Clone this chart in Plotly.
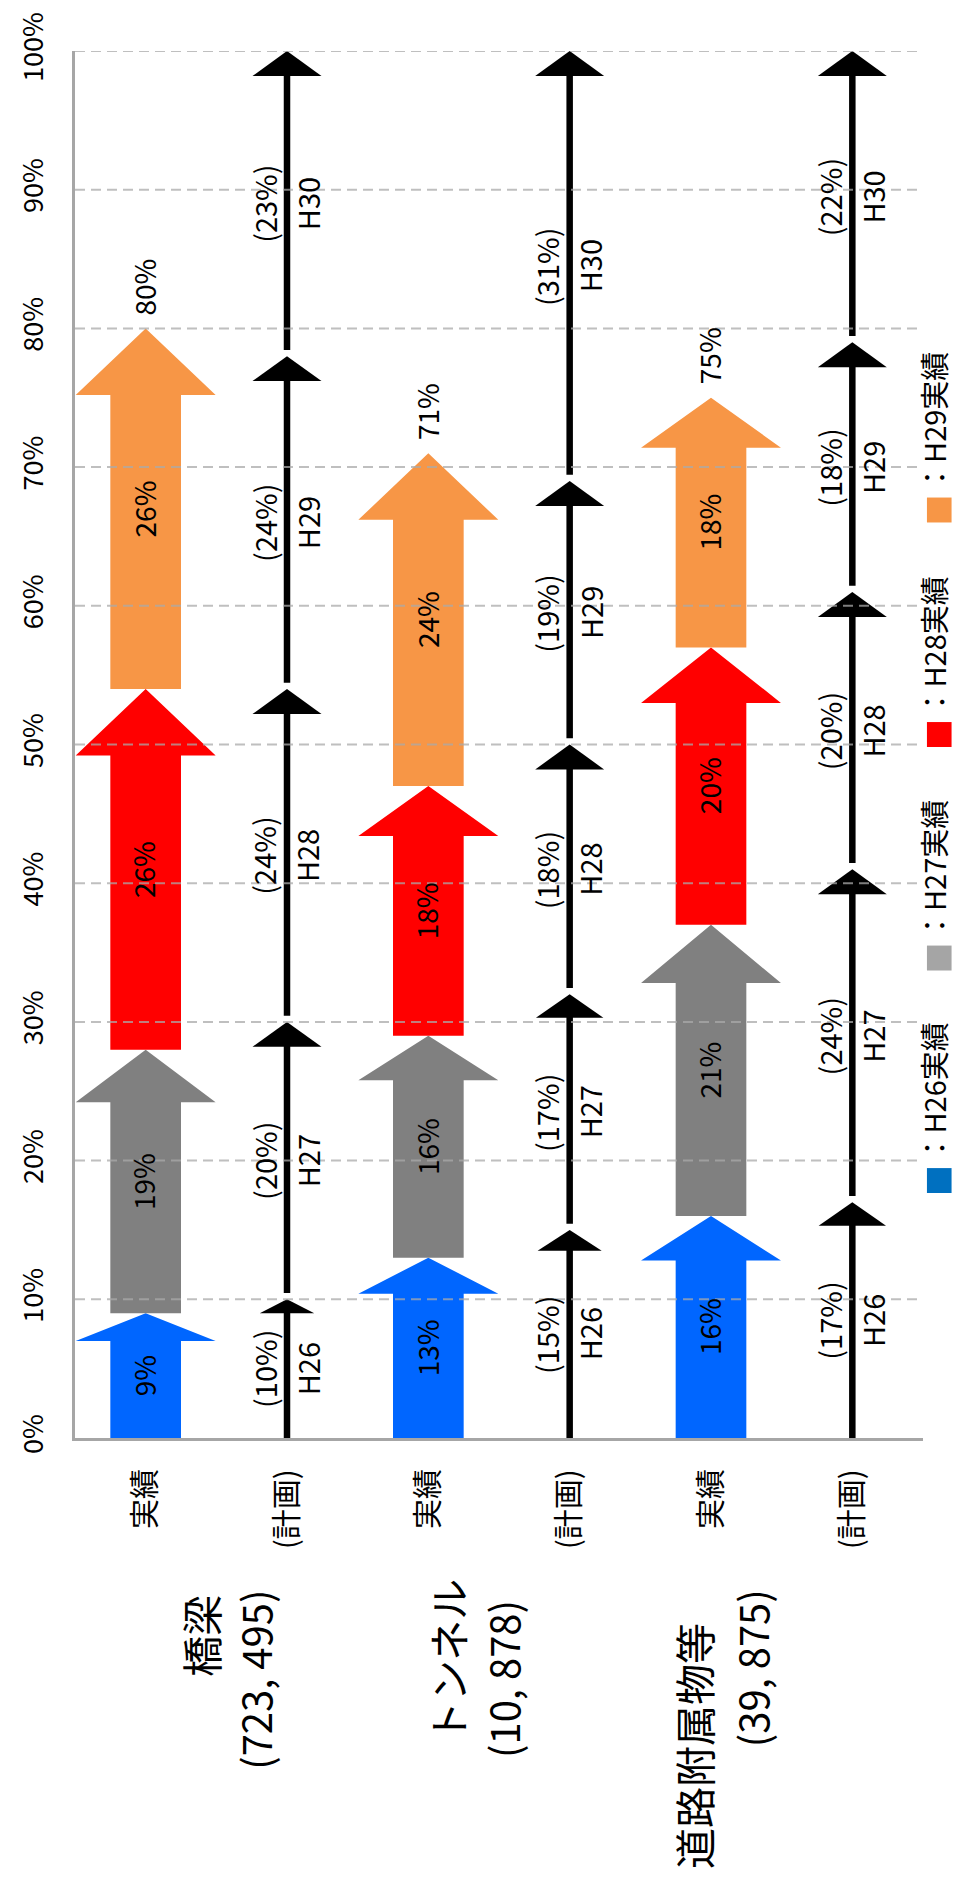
import plotly.graph_objects as go

# ---------------- data ----------------
group_names = ["橋梁", "トンネル", "道路附属物等"]
group_counts = ["(723, 495)", "(10, 878)", "(39, 875)"]
row_labels = ["実績", "(計画)", "実績", "(計画)", "実績", "(計画)"]
actual_years = ["H26実績", "H27実績", "H28実績", "H29実績"]
plan_years = ["H26", "H27", "H28", "H29", "H30"]

bridge_actual = [9, 19, 26, 26]
tunnel_actual = [13, 16, 18, 24]
facility_actual = [16, 21, 20, 18]

bridge_plan = [10, 20, 24, 24, 23]
tunnel_plan = [15, 17, 18, 19, 31]
facility_plan = [17, 24, 20, 18, 22]

pct_ticks = [0, 10, 20, 30, 40, 50, 60, 70, 80, 90, 100]
pct_labels = [f"{v}%" for v in pct_ticks]

# ---------------- style ----------------
FONT = "Noto Sans CJK JP, Liberation Sans, sans-serif"
CJK = "Noto Sans CJK JP, sans-serif"
actual_colors = ["#0066FF", "#808080", "#FF0000", "#F79646"]
legend_colors = ["#0070C0", "#A5A5A5", "#FF0000", "#F79646"]
AXIS_GRAY = "#A6A6A6"

W, H = 956, 1895
PL, PR, PT, PB = 62, 923, 48, 1438          # plot area in px
PXU = (PR - PL) / 6.0                        # px per category unit
ROT = 0.07                                   # small glyph offset correction for rotated text


def pxx(px):
    return (px - PL) / (PR - PL)


def pxy(py):
    return (PB - py) / (PB - PT)


def rot_text(x, y, text, size, family=FONT, xref="x", yref="y"):
    return dict(x=x, y=y, xref=xref, yref=yref, text=text, showarrow=False,
                textangle=-90, xshift=-ROT * size,
                font=dict(family=family, size=size, color="black"),
                xanchor="center", yanchor="middle")


actuals = [bridge_actual, tunnel_actual, facility_actual]
plans = [bridge_plan, tunnel_plan, facility_plan]

fig = go.Figure()
annotations = []
shapes = []

# ---------- fat arrows (実績) ----------
BODY_HW = 0.25
HEAD_HW = 0.495
for gi, vals in enumerate(actuals):
    xc = 2 * gi
    base = 0
    for si, v in enumerate(vals):
        top = base + v
        hh = min(max(0.2 * v, 2.0), 4.8)
        xs = [xc - BODY_HW, xc + BODY_HW, xc + BODY_HW, xc + HEAD_HW, xc,
              xc - HEAD_HW, xc - BODY_HW, xc - BODY_HW]
        ys = [base, base, top - hh, top - hh, top, top - hh, top - hh, base]
        fig.add_trace(go.Scatter(x=xs, y=ys, mode="lines", fill="toself",
                                 fillcolor=actual_colors[si],
                                 line=dict(width=0, color=actual_colors[si]),
                                 hoverinfo="skip", showlegend=False))
        annotations.append(rot_text(xc, base + v / 2, f"{v}%", 28))
        base = top
    annotations.append(rot_text(xc, base + 3.0, f"{sum(vals)}%", 28))

# ---------- thin arrows (計画) ----------
LINE_W = 6.5
T_HW = 0.244
off = 22 / PXU
for gi, vals in enumerate(plans):
    xc = 2 * gi + 1
    prev = 0
    for k, v in enumerate(vals):
        tip = min(prev + v, 100)
        hh = min(1.8, 0.1 * v)
        hw = T_HW * (hh / 1.8) ** 0.4
        start = prev + (0.45 if k > 0 else 0)
        fig.add_trace(go.Scatter(x=[xc, xc], y=[start, tip - hh + 0.15],
                                 mode="lines",
                                 line=dict(width=LINE_W, color="black"),
                                 hoverinfo="skip", showlegend=False))
        fig.add_trace(go.Scatter(x=[xc - hw, xc + hw, xc, xc - hw],
                                 y=[tip - hh, tip - hh, tip, tip - hh],
                                 mode="lines", fill="toself", fillcolor="black",
                                 line=dict(width=0, color="black"),
                                 hoverinfo="skip", showlegend=False))
        mid = (prev + tip) / 2
        annotations.append(rot_text(xc - off, mid, f"({v}%)", 29))
        annotations.append(rot_text(xc + off, mid, plan_years[k], 29))
        prev = prev + v

# ---------- gridlines (drawn over the bars, like the original) ----------
for v in pct_ticks[1:]:
    shapes.append(dict(type="line", xref="paper", yref="y", x0=0, x1=1,
                       y0=v, y1=v, layer="above",
                       line=dict(color="rgba(170,170,170,0.75)", width=2,
                                 dash="10px,6px")))

# ---------- group labels ----------
group_label_pos = [((191, 1636), (248, 1680)),
                   ((442, 1661), (500, 1680)),
                   ((693, 1747), (752, 1669))]
for gi in range(3):
    (x1, y1), (x2, y2) = group_label_pos[gi]
    annotations.append(rot_text(pxx(x1), pxy(y1), group_names[gi], 41,
                                family=CJK, xref="paper", yref="paper"))
    annotations.append(rot_text(pxx(x2), pxy(y2), group_counts[gi], 40,
                                xref="paper", yref="paper"))

# ---------- legend (manual, rotated) ----------
legend_sq_y = [1180, 957, 733, 508]
SQ = 25
LX = 939.5
for i, name in enumerate(actual_years):
    cy = legend_sq_y[i]
    shapes.append(dict(type="rect", xref="paper", yref="paper",
                       x0=pxx(LX - SQ / 2), x1=pxx(LX + SQ / 2),
                       y0=pxy(cy + SQ / 2), y1=pxy(cy - SQ / 2),
                       fillcolor=legend_colors[i], line=dict(width=0),
                       layer="above"))
    annotations.append(rot_text(pxx(935), pxy(cy - 88), "：" + name, 29,
                                xref="paper", yref="paper"))

fig.update_layout(
    width=W, height=H,
    margin=dict(l=PL, r=W - PR, t=PT, b=H - PB, pad=0),
    plot_bgcolor="white", paper_bgcolor="white",
    showlegend=False,
    font=dict(family=FONT, size=28, color="black"),
    annotations=annotations,
    shapes=shapes,
    xaxis=dict(range=[-0.5, 5.5], tickmode="array",
               tickvals=list(range(6)), ticktext=row_labels,
               tickangle=-90, tickfont=dict(family=CJK, size=30, color="black"),
               showgrid=False, zeroline=False, showline=True,
               linecolor=AXIS_GRAY, linewidth=3, ticks="",
               ticklabelstandoff=16, fixedrange=True),
    yaxis=dict(range=[0, 100], tickmode="array",
               tickvals=pct_ticks, ticktext=pct_labels,
               tickangle=-90, tickfont=dict(family=FONT, size=27, color="black"),
               showgrid=False, zeroline=False, showline=True,
               linecolor=AXIS_GRAY, linewidth=3, ticks="",
               ticklabelstandoff=18, fixedrange=True),
)

fig.write_html(
    "out.html",
    config={"displayModeBar": False},
    post_script="document.body.style.margin='0';"
                "document.documentElement.style.overflow='hidden';",
)
